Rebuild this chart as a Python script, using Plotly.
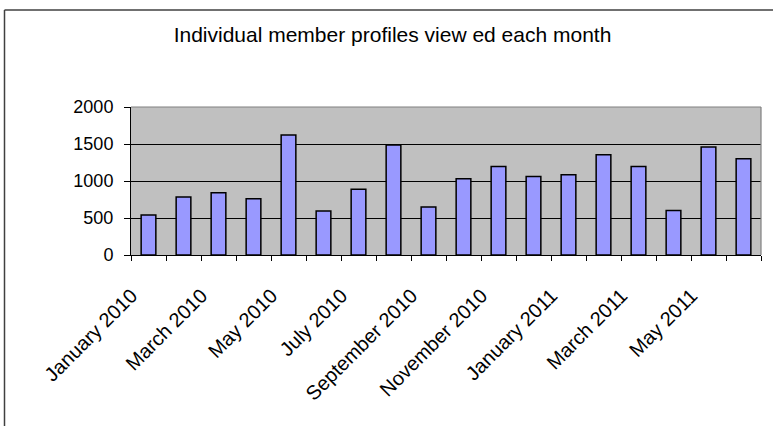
import plotly.graph_objects as go

months = [
    "January 2010", "February 2010", "March 2010", "April 2010", "May 2010", "June 2010",
    "July 2010", "August 2010", "September 2010", "October 2010", "November 2010", "December 2010",
    "January 2011", "February 2011", "March 2011", "April 2011", "May 2011", "June 2011",
]
views = [540, 785, 840, 760, 1620, 595, 890, 1485, 650, 1030, 1195, 1060, 1085, 1355, 1195, 600, 1460, 1300]
tick_labels = [m if i % 2 == 0 else "" for i, m in enumerate(months)]
y_ticks = [0, 500, 1000, 1500, 2000]

FONT = "Liberation Sans, Arial, sans-serif"

W, H = 773, 426
L, R, T = 131, 12, 107
PH = 148
B = H - T - PH
PW = W - L - R

fig = go.Figure()
fig.add_trace(go.Bar(
    x=months, y=views,
    marker=dict(color="#9999FF", line=dict(color="#000000", width=1.5)),
    showlegend=False,
))

fig.update_layout(
    width=W, height=H,
    margin=dict(l=L, r=R, t=T, b=B, autoexpand=False),
    paper_bgcolor="white",
    plot_bgcolor="#C0C0C0",
    bargap=0.58,
    font=dict(family=FONT, color="black", size=18),
    title=dict(
        text="Individual member profiles view ed each month",
        font=dict(family=FONT, size=21, color="black"),
        x=392.5 / W, xanchor="center", xref="container",
        y=1 - 35 / H, yanchor="middle", yref="container",
    ),
    xaxis=dict(
        type="category",
        tickmode="array", tickvals=months, ticktext=tick_labels,
        tickson="boundaries",
        ticks="outside", ticklen=5, tickcolor="black", tickwidth=1,
        showline=True, linecolor="black", linewidth=1,
        showgrid=False,
        tickangle=-45,
        ticklabelstandoff=20,
        ticklabelshift=-17,
        tickfont=dict(family=FONT, size=20, color="black"),
    ),
    yaxis=dict(
        range=[0, 2000],
        tickmode="array", tickvals=y_ticks,
        ticks="outside", ticklen=6, tickcolor="black", tickwidth=1,
        showline=True, linecolor="black", linewidth=1,
        showgrid=True, gridcolor="black", gridwidth=1,
        zeroline=False,
        ticklabelstandoff=7,
        tickfont=dict(family=FONT, size=18, color="black"),
    ),
    shapes=[
        dict(type="line", xref="paper", yref="paper", x0=0, x1=1, y0=1, y1=1,
             line=dict(color="#808080", width=1.2), layer="above"),
        dict(type="line", xref="paper", yref="paper", x0=1, x1=1, y0=0, y1=1,
             line=dict(color="#808080", width=1.2), layer="above"),
        # outer chart border: only left and top edges fall inside the picture
        dict(type="line", xref="paper", yref="paper",
             x0=(4.5 - L) / PW, x1=(4.5 - L) / PW,
             y0=-(440 - (T + PH)) / PH, y1=((T + PH) - 10) / PH,
             line=dict(color="#404040", width=1.5), layer="above"),
        dict(type="line", xref="paper", yref="paper",
             x0=(4.5 - L) / PW, x1=(790 - L) / PW,
             y0=((T + PH) - 10) / PH, y1=((T + PH) - 10) / PH,
             line=dict(color="#404040", width=1.5), layer="above"),
    ],
)

fig.write_html("out.html", config={"displayModeBar": False},
               post_script="document.body.style.margin='0px';")
